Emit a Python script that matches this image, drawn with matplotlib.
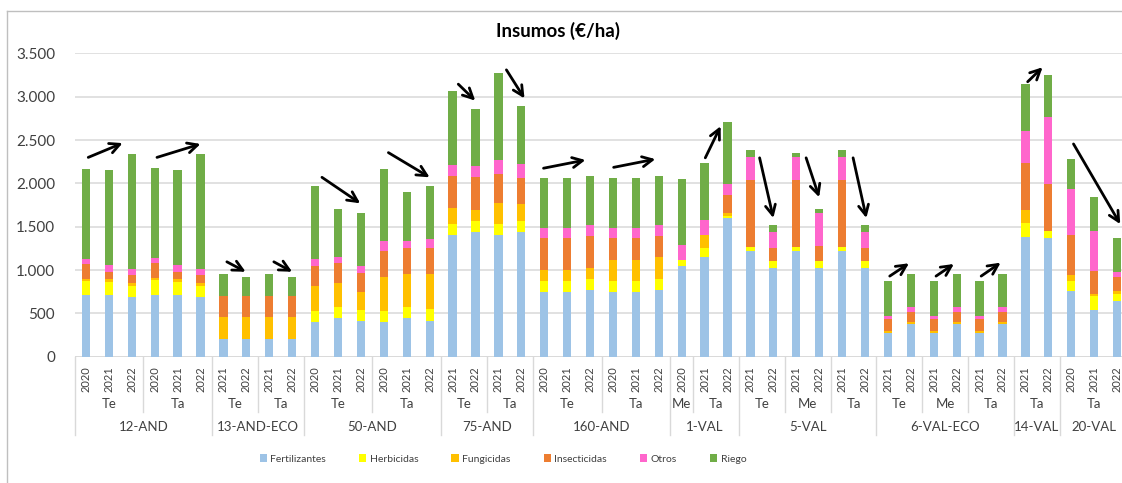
import matplotlib
matplotlib.use("Agg")
import matplotlib.pyplot as plt
from matplotlib.lines import Line2D
from matplotlib.ticker import FuncFormatter

plt.rcParams['font.family'] = ['Lato', 'DejaVu Sans']

# ---- data -------------------------------------------------------------
groups = ["12-AND", "13-AND-ECO", "50-AND", "75-AND", "160-AND",
          "1-VAL", "5-VAL", "6-VAL-ECO", "14-VAL", "20-VAL"]

# (group, subgroup, years)
layout = [
    ("12-AND", "Te", ["2020", "2021", "2022"]),
    ("12-AND", "Ta", ["2020", "2021", "2022"]),
    ("13-AND-ECO", "Te", ["2021", "2022"]),
    ("13-AND-ECO", "Ta", ["2021", "2022"]),
    ("50-AND", "Te", ["2020", "2021", "2022"]),
    ("50-AND", "Ta", ["2020", "2021", "2022"]),
    ("75-AND", "Te", ["2021", "2022"]),
    ("75-AND", "Ta", ["2021", "2022"]),
    ("160-AND", "Te", ["2020", "2021", "2022"]),
    ("160-AND", "Ta", ["2020", "2021", "2022"]),
    ("1-VAL", "Me", ["2020"]),
    ("1-VAL", "Ta", ["2021", "2022"]),
    ("5-VAL", "Te", ["2021", "2022"]),
    ("5-VAL", "Me", ["2021", "2022"]),
    ("5-VAL", "Ta", ["2021", "2022"]),
    ("6-VAL-ECO", "Te", ["2021", "2022"]),
    ("6-VAL-ECO", "Me", ["2021", "2022"]),
    ("6-VAL-ECO", "Ta", ["2021", "2022"]),
    ("14-VAL", "Ta", ["2021", "2022"]),
    ("20-VAL", "Ta", ["2020", "2021", "2022"]),
]

fertilizantes = [710, 710, 690, 715, 710, 690,
                 205, 205, 205, 205,
                 405, 450, 410, 405, 450, 410,
                 1400, 1435, 1400, 1435,
                 745, 745, 765, 745, 745, 765,
                 1045, 1155, 1595,
                 1220, 1025, 1220, 1025, 1220, 1025,
                 275, 375, 275, 375, 275, 375,
                 1385, 1365,
                 755, 540, 645]
herbicidas = [165, 155, 125, 165, 155, 125,
              0, 0, 0, 0,
              125, 120, 130, 125, 120, 135,
              135, 130, 135, 130,
              130, 130, 130, 130, 130, 130,
              70, 105, 30,
              50, 75, 50, 85, 50, 75,
              0, 0, 0, 0, 0, 0,
              155, 90,
              115, 155, 75]
fungicidas = [25, 30, 40, 25, 30, 40,
              250, 250, 250, 250,
              285, 285, 205, 390, 385, 405,
              180, 125, 240, 195,
              125, 125, 130, 245, 245, 255,
              0, 145, 35,
              0, 0, 0, 0, 0, 0,
              20, 20, 20, 20, 20, 20,
              155, 0,
              70, 25, 40]
insecticidas = [175, 80, 90, 175, 80, 90,
                245, 245, 245, 245,
                235, 230, 225, 305, 305, 310,
                375, 380, 335, 305,
                375, 375, 370, 250, 250, 245,
                0, 5, 210,
                770, 150, 770, 170, 770, 150,
                140, 125, 140, 125, 140, 125,
                540, 535,
                470, 270, 160]
otros = [55, 85, 70, 55, 85, 70,
         5, 5, 5, 5,
         75, 60, 80, 105, 80, 100,
         120, 125, 160, 160,
         115, 115, 125, 115, 115, 125,
         175, 170, 120,
         260, 185, 260, 375, 260, 185,
         40, 50, 40, 50, 40, 50,
         365, 780,
         530, 455, 60]
riego = [1040, 1095, 1325, 1040, 1095, 1325,
         245, 210, 245, 210,
         840, 565, 610, 840, 560, 615,
         860, 665, 1005, 665,
         575, 575, 565, 575, 575, 565,
         765, 655, 720,
         85, 90, 50, 50, 85, 90,
         395, 390, 395, 390, 395, 390,
         545, 480,
         340, 395, 390]

series_names = ["Fertilizantes", "Herbicidas", "Fungicidas",
                "Insecticidas", "Otros", "Riego"]
series_values = [fertilizantes, herbicidas, fungicidas,
                 insecticidas, otros, riego]
series_colors = ["#9DC3E6", "#FFFF00", "#FFC000",
                 "#ED7D31", "#FF66CC", "#70AD47"]

# trend arrows: ((x_start, y_start), (x_end, y_end)) in bar-index / €/ha units
arrows = [
    ((0.1, 2300), (1.6, 2465)),
    ((3.1, 2300), (5.0, 2455)),
    ((6.15, 1095), (6.97, 980)),
    ((8.2, 1095), (9.0, 980)),
    ((10.3, 2070), (11.97, 1770)),
    ((13.2, 2355), (15.0, 2070)),
    ((16.25, 3145), (16.99, 2955)),
    ((18.35, 3310), (19.14, 2980)),
    ((19.97, 2175), (21.8, 2270)),
    ((23.03, 2185), (24.85, 2280)),
    ((27.03, 2295), (27.7, 2660)),
    ((29.4, 2295), (30.0, 1600)),
    ((31.43, 2295), (32.0, 1840)),
    ((33.48, 2295), (34.06, 1600)),
    ((35.08, 930), (35.92, 1078)),
    ((37.1, 930), (37.88, 1070)),
    ((39.07, 930), (39.92, 1085)),
    ((41.1, 3173), (41.75, 3340)),
    ((43.1, 2455), (45.14, 1530)),
]

# ---- figure -----------------------------------------------------------
W, H = 1122, 483
fig = plt.figure(figsize=(W / 100, H / 100), dpi=100)

x_left, x_right = 74.5, 1128.5     # pixel extent of the plotting area
y_top, y_bottom = 53.4, 356.7
ax = fig.add_axes([x_left / W, 1 - y_bottom / H,
                   (x_right - x_left) / W, (y_bottom - y_top) / H])

n = len(fertilizantes)
xs = list(range(n))
bottom = [0] * n
for name, vals, col in zip(series_names, series_values, series_colors):
    ax.bar(xs, vals, width=0.36, bottom=bottom, color=col, label=name,
           linewidth=0, zorder=3)
    bottom = [b + v for b, v in zip(bottom, vals)]

ax.set_xlim(-0.5, n - 0.5)
ax.set_ylim(0, 3500)
ax.set_yticks(range(0, 3501, 500))
ax.yaxis.set_major_formatter(FuncFormatter(lambda v, p: f"{int(v):,}".replace(",", ".")))
ax.grid(axis="y", color="#D9D9D9", linewidth=1.1, zorder=0)
for s in ax.spines.values():
    s.set_visible(False)
ax.tick_params(axis="y", length=0, pad=14, labelsize=11, labelcolor="#404040")

years = [y for _, _, ys in layout for y in ys]
ax.set_xticks(xs)
ax.set_xticklabels(years, rotation=90, fontsize=8, color="#404040")
ax.tick_params(axis="x", length=0, pad=7)

# baseline
ax.axhline(0, color="#D9D9D9", linewidth=1.1, zorder=2)

# multi-level category axis
trans = ax.get_xaxis_transform()
axh = y_bottom - y_top


def ay(ypix):
    return (y_bottom - ypix) / axh


sep_col = "#D9D9D9"
pos = 0
group_start = {}
group_end = {}
prev_group = None
for g, sub, ys in layout:
    start = pos - 0.5
    end = pos + len(ys) - 0.5
    new_group = g != prev_group
    # boundary line on the left of this subgroup
    ylow = 435 if new_group else 412
    ax.add_line(Line2D([start, start], [ay(357), ay(ylow)], transform=trans,
                       color=sep_col, linewidth=1, clip_on=False))
    ax.text((start + end) / 2, ay(404), sub, transform=trans, ha="center",
            va="center", fontsize=9.5, color="#404040")
    group_start.setdefault(g, start)
    group_end[g] = end
    prev_group = g
    pos += len(ys)
ax.add_line(Line2D([pos - 0.5, pos - 0.5], [ay(357), ay(435)], transform=trans,
                   color=sep_col, linewidth=1, clip_on=False))
for g in groups:
    ax.text((group_start[g] + group_end[g]) / 2, ay(427), g, transform=trans,
            ha="center", va="center", fontsize=9.5, color="#404040")

# arrows
for (x0, y0), (x1, y1) in arrows:
    ax.annotate("", xy=(x1, y1), xytext=(x0, y0),
                arrowprops=dict(arrowstyle="->", color="black", lw=2.0,
                                mutation_scale=18, shrinkA=0, shrinkB=0),
                annotation_clip=False, zorder=5)

# title
fig.text(558 / W, 1 - 31 / H, "Insumos (€/ha)", ha="center", va="center",
         fontsize=13.5, fontweight="bold", color="#000000")

# legend
fig.legend(loc="center", bbox_to_anchor=(503 / W, 1 - 459 / H), ncol=6,
           frameon=False, fontsize=7.5, handlelength=0.7, handleheight=0.7,
           handletextpad=0.35, columnspacing=3.15, labelcolor="#404040")

# chart border
fig.add_artist(Line2D([7 / W, 7 / W], [1 - 11 / H, 0], transform=fig.transFigure,
                      color="#BFBFBF", linewidth=1))
fig.add_artist(Line2D([7 / W, 1], [1 - 11 / H, 1 - 11 / H], transform=fig.transFigure,
                      color="#BFBFBF", linewidth=1))

fig.savefig("out.png", dpi=100)
